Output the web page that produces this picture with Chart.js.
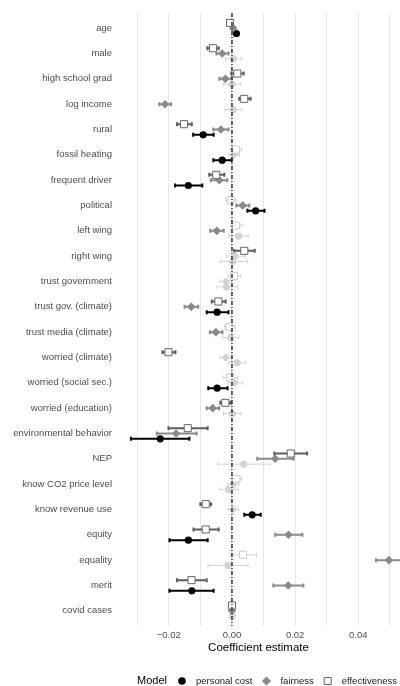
<!DOCTYPE html>
<html>
<head>
<meta charset="utf-8">
<script src="https://cdn.jsdelivr.net/npm/chart.js@4.4.1/dist/chart.umd.min.js"></script>
<style>
  html, body { margin: 0; padding: 0; background: #ffffff; }
  canvas { display: block; }
</style>
</head>
<body>
<canvas id="coefPlot" width="400" height="686"></canvas>
<script>
// Predictors, top to bottom
const categories = [
  "age", "male", "high school grad", "log income", "rural", "fossil heating",
  "frequent driver", "political", "left wing", "right wing", "trust government",
  "trust gov. (climate)", "trust media (climate)", "worried (climate)",
  "worried (social sec.)", "worried (education)", "environmental behavior", "NEP",
  "know CO2 price level", "know revenue use", "equity", "equality", "merit", "covid cases"
];

// Model: personal cost (estimate, 95% interval, significant?)
const costEst = [0.0014, 0.0004, 0.0000, 0.0004, -0.0091, -0.0031, -0.0138, 0.0075, 0.0021, 0.0003, -0.0017, -0.0047, -0.0004, 0.0016, -0.0047, 0.0001, -0.0227, 0.0037, -0.0011, 0.0064, -0.0138, -0.0013, -0.0127, 0.0001];
const costLo  = [0.0008, -0.0021, -0.0026, -0.0022, -0.0123, -0.0059, -0.0180, 0.0049, -0.0009, -0.0037, -0.0047, -0.0080, -0.0031, -0.0012, -0.0075, -0.0027, -0.0320, -0.0044, -0.0038, 0.0039, -0.0198, -0.0076, -0.0198, -0.0002];
const costHi  = [0.0020, 0.0031, 0.0028, 0.0031, -0.0058, -0.0001, -0.0094, 0.0103, 0.0051, 0.0050, 0.0017, -0.0011, 0.0022, 0.0044, -0.0014, 0.0029, -0.0135, 0.0120, 0.0019, 0.0091, -0.0077, 0.0051, -0.0058, 0.0004];
const costSig = [1, 0, 0, 0, 1, 1, 1, 1, 0, 0, 0, 1, 0, 0, 1, 0, 1, 0, 0, 1, 1, 0, 1, 0];

// Model: fairness
const fairEst = [0.0004, -0.0031, -0.0021, -0.0212, -0.0035, 0.0006, -0.0040, 0.0034, -0.0048, 0.0011, -0.0019, -0.0129, -0.0051, -0.0020, 0.0008, -0.0061, -0.0177, 0.0137, 0.0004, 0.0003, 0.0179, 0.0497, 0.0178, 0.0000];
const fairLo  = [-0.0002, -0.0049, -0.0040, -0.0230, -0.0059, -0.0010, -0.0067, 0.0014, -0.0069, -0.0017, -0.0038, -0.0150, -0.0070, -0.0038, -0.0013, -0.0080, -0.0238, 0.0080, -0.0015, -0.0012, 0.0137, 0.0456, 0.0131, -0.0003];
const fairHi  = [0.0010, -0.0011, -0.0001, -0.0193, -0.0011, 0.0024, -0.0015, 0.0055, -0.0026, 0.0043, -0.0002, -0.0107, -0.0030, -0.0002, 0.0033, -0.0041, -0.0112, 0.0195, 0.0022, 0.0021, 0.0223, 0.0540, 0.0226, 0.0003];
const fairSig = [1, 1, 1, 1, 1, 0, 1, 1, 1, 0, 0, 1, 1, 0, 0, 1, 1, 1, 0, 0, 1, 1, 1, 1];

// Model: effectiveness
const effEst = [-0.0006, -0.0060, 0.0017, 0.0039, -0.0152, 0.0013, -0.0050, -0.0004, 0.0013, 0.0039, 0.0006, -0.0043, -0.0008, -0.0201, -0.0005, -0.0021, -0.0140, 0.0186, 0.0014, -0.0083, -0.0083, 0.0035, -0.0128, 0.0000];
const effLo  = [-0.0012, -0.0078, -0.0002, 0.0023, -0.0174, -0.0006, -0.0072, -0.0020, -0.0004, 0.0007, -0.0012, -0.0064, -0.0024, -0.0220, -0.0028, -0.0037, -0.0201, 0.0134, -0.0004, -0.0100, -0.0122, -0.0006, -0.0174, -0.0004];
const effHi  = [0.0000, -0.0042, 0.0037, 0.0059, -0.0127, 0.0030, -0.0024, 0.0013, 0.0032, 0.0072, 0.0028, -0.0020, 0.0011, -0.0179, 0.0018, -0.0004, -0.0077, 0.0238, 0.0030, -0.0066, -0.0042, 0.0078, -0.0080, 0.0004];
const effSig = [1, 1, 1, 1, 1, 0, 1, 0, 0, 1, 0, 1, 0, 1, 0, 1, 1, 1, 0, 1, 1, 0, 1, 1];

// Horizontal axis ticks
const xTickValues = [-0.03, -0.02, -0.01, 0.00, 0.01, 0.02, 0.03, 0.04, 0.05];
const xTickLabels = ["", "\u22120.02", "", "0.00", "", "0.02", "", "0.04", ""];

const modelNames = ["personal cost", "fairness", "effectiveness"];

const FONT = "'Liberation Sans', Arial, Helvetica, sans-serif";
const LIGHT = "#d3d3d3";

// One dodged row of points per model within each predictor
function makeSet(label, est, lo, hi, sig, shift, style) {
  return {
    label,
    data: est.map((v, i) => ({ x: v, y: i + shift })),
    lo, hi, sig,
    barDark: style.barDark,
    pointStyle: style.shape,
    pointRadius: style.radius,
    pointBorderWidth: style.borderWidth,
    pointBackgroundColor: c => sig[c.dataIndex] ? style.fill : style.lightFill,
    pointBorderColor: c => sig[c.dataIndex] ? style.stroke : style.lightStroke,
    showLine: false
  };
}

const datasets = [
  makeSet(modelNames[2], effEst, effLo, effHi, effSig, -0.21,
    { shape: "rect", radius: 5, borderWidth: 1, fill: "#ffffff", lightFill: "#ffffff",
      stroke: "#666666", lightStroke: "#cccccc", barDark: "#5e5e5e" }),
  makeSet(modelNames[1], fairEst, fairLo, fairHi, fairSig, 0,
    { shape: "rectRot", radius: 4.3, borderWidth: 0, fill: "#8a8a8a", lightFill: LIGHT,
      stroke: "#8a8a8a", lightStroke: LIGHT, barDark: "#8a8a8a" }),
  makeSet(modelNames[0], costEst, costLo, costHi, costSig, 0.21,
    { shape: "circle", radius: 3.6, borderWidth: 0, fill: "#000000", lightFill: LIGHT,
      stroke: "#000000", lightStroke: LIGHT, barDark: "#000000" })
];

// Confidence intervals with small end caps, drawn under the points
const errorBars = {
  id: "errorBars",
  beforeDatasetsDraw(chart) {
    const { ctx, chartArea: a } = chart;
    const xs = chart.scales.x;
    ctx.save();
    ctx.beginPath();
    ctx.rect(a.left, a.top, a.right - a.left, a.bottom - a.top);
    ctx.clip();
    chart.data.datasets.forEach((ds, di) => {
      chart.getDatasetMeta(di).data.forEach((pt, i) => {
        const strong = ds.sig[i] === 1;
        const x0 = xs.getPixelForValue(ds.lo[i]);
        const x1 = xs.getPixelForValue(ds.hi[i]);
        const y = pt.y;
        const cap = 2;
        ctx.strokeStyle = strong ? ds.barDark : LIGHT;
        ctx.lineWidth = strong ? 2 : 1;
        ctx.beginPath();
        ctx.moveTo(x0, y); ctx.lineTo(x1, y);
        ctx.moveTo(x0, y - cap); ctx.lineTo(x0, y + cap);
        ctx.moveTo(x1, y - cap); ctx.lineTo(x1, y + cap);
        ctx.stroke();
      });
    });
    ctx.restore();
  }
};

// Dash-dot reference line at zero, on top of the marks
const zeroLine = {
  id: "zeroLine",
  afterDatasetsDraw(chart) {
    const { ctx, chartArea: a } = chart;
    const x = chart.scales.x.getPixelForValue(0);
    ctx.save();
    ctx.strokeStyle = "#333333";
    ctx.lineWidth = 1.5;
    ctx.setLineDash([4, 2, 1, 2]);
    ctx.beginPath();
    ctx.moveTo(x, a.top);
    ctx.lineTo(x, a.bottom);
    ctx.stroke();
    ctx.restore();
  }
};

// Legend row: "Model" followed by the three marker keys
const modelLegend = {
  id: "modelLegend",
  afterDraw(chart) {
    const ctx = chart.ctx;
    const y = 681;
    let x = 137;
    ctx.save();
    ctx.textBaseline = "middle";
    ctx.textAlign = "left";
    ctx.fillStyle = "#000000";
    ctx.font = "11px " + FONT;
    ctx.fillText("Model", x, y);
    x += ctx.measureText("Model").width + 15;
    ctx.font = "9.5px " + FONT;
    const keys = [
      { name: modelNames[0], shape: "circle" },
      { name: modelNames[1], shape: "diamond" },
      { name: modelNames[2], shape: "square" }
    ];
    keys.forEach(k => {
      ctx.beginPath();
      if (k.shape === "circle") {
        ctx.fillStyle = "#000000";
        ctx.arc(x, y, 3.8, 0, Math.PI * 2);
        ctx.fill();
      } else if (k.shape === "diamond") {
        ctx.fillStyle = "#8a8a8a";
        ctx.moveTo(x, y - 4.6); ctx.lineTo(x + 4.6, y);
        ctx.lineTo(x, y + 4.6); ctx.lineTo(x - 4.6, y);
        ctx.closePath();
        ctx.fill();
      } else {
        ctx.strokeStyle = "#666666";
        ctx.lineWidth = 1;
        ctx.rect(x - 3.5, y - 3.5, 7, 7);
        ctx.stroke();
      }
      x += 14;
      ctx.fillStyle = "#1a1a1a";
      ctx.fillText(k.name, x, y);
      x += ctx.measureText(k.name).width + 14;
    });
    ctx.restore();
  }
};

new Chart(document.getElementById("coefPlot"), {
  type: "scatter",
  data: { datasets },
  plugins: [errorBars, zeroLine, modelLegend],
  options: {
    responsive: false,
    devicePixelRatio: 1,
    animation: false,
    layout: { autoPadding: false, padding: { top: 13, left: 0, right: 0, bottom: 31 } },
    plugins: {
      legend: { display: false },
      tooltip: { enabled: false }
    },
    scales: {
      x: {
        type: "linear",
        min: -0.0364,
        max: 0.0532,
        afterBuildTicks: s => { s.ticks = xTickValues.map(v => ({ value: v })); },
        afterFit: s => { s.height = 29; s.paddingLeft = 0; s.paddingRight = 0; },
        border: { display: false },
        grid: { color: "#e6e6e6", lineWidth: 1, drawTicks: false },
        ticks: {
          autoSkip: false,
          maxRotation: 0,
          padding: 4,
          color: "#4d4d4d",
          font: { family: FONT, size: 9.5 },
          callback: (v, i) => xTickLabels[i]
        },
        title: {
          display: true,
          text: "Coefficient estimate",
          color: "#000000",
          font: { family: FONT, size: 11.5 },
          padding: { top: 0, bottom: 0 }
        }
      },
      y: {
        type: "linear",
        reverse: true,
        min: -0.6,
        max: categories.length - 0.4,
        afterBuildTicks: s => { s.ticks = categories.map((c, i) => ({ value: i })); },
        afterFit: s => { s.width = 117; },
        border: { display: false },
        grid: { display: false, drawTicks: false },
        ticks: {
          autoSkip: false,
          padding: 5,
          color: "#4d4d4d",
          font: { family: FONT, size: 9.5 },
          callback: v => categories[v]
        }
      }
    }
  }
});
</script>
</body>
</html>
